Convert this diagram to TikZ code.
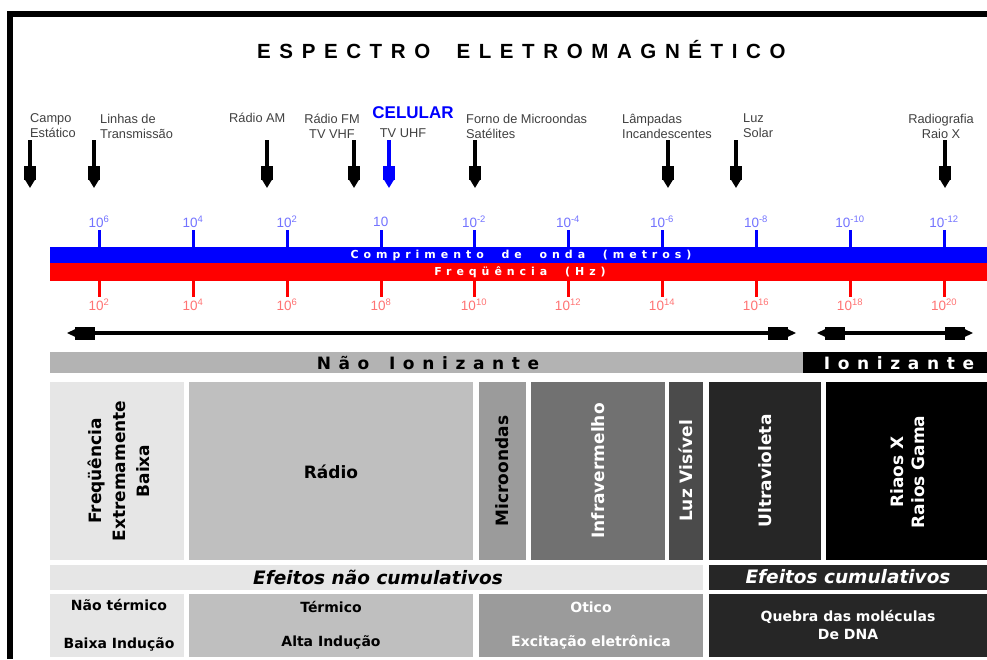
\documentclass[tikz,border=0pt]{standalone}
\usepackage{fontspec}
\setmainfont{Liberation Sans}
\newfontfamily\titlefont{Liberation Sans}[LetterSpace=42]
\newfontfamily\barfont{DejaVu Sans}[LetterSpace=45]
\newfontfamily\ionfont{DejaVu Sans}[LetterSpace=45]
\newfontfamily\boxfont{DejaVu Sans}
\usetikzlibrary{arrows.meta}

\definecolor{faixa}{HTML}{B3B3B3}
\definecolor{c1}{HTML}{E6E6E6}
\definecolor{c2}{HTML}{BFBFBF}
\definecolor{c3}{HTML}{9B9B9B}
\definecolor{c4}{HTML}{717171}
\definecolor{c5}{HTML}{4B4B4B}
\definecolor{c6}{HTML}{262626}

\begin{document}
\begin{tikzpicture}[x=1pt,y=-1pt]
					\tikzstyle{lbl}=[inner sep=0pt,text=black!75,font=\fontsize{12.8}{15}\selectfont]
					\tikzstyle{pointer}=[line width=3.5pt,-{Rectangle[length=14pt,width=12pt,sep=0pt]Triangle[length=8pt,width=9pt,sep=0pt]}]
					\tikzstyle{spanarrow}=[line width=4pt,{Triangle[length=15pt,width=5pt,sep=0pt]Rectangle[length=20pt,width=13pt,sep=0pt]}-{Rectangle[length=20pt,width=13pt,sep=0pt]Triangle[length=15pt,width=5pt,sep=0pt]}]
					\tikzstyle{ticklbl}=[inner sep=0pt,font=\fontsize{13.5}{15}\selectfont]
					\tikzstyle{vbox}=[inner sep=0pt,rotate=90,align=center,font=\boxfont\bfseries\fontsize{17}{24}\selectfont]
					\tikzstyle{hbox}=[inner sep=0pt,align=center,font=\boxfont\bfseries\fontsize{14}{18}\selectfont]
					\useasboundingbox (0,0) rectangle (987,659);
					% moldura
					\draw[line width=5.5pt] (10,659) -- (10,14) -- (987,14);
					\node[anchor=west,inner sep=0pt] (title) at (257,50) {\titlefont\bfseries\fontsize{20.5}{24}\selectfont ESPECTRO\hspace{12pt} ELETROMAGNÉTICO};
					% fontes
					\node[lbl,anchor=west,align=left] (l1) at (30,126) {Campo\\Estático};
					\node[lbl,anchor=west,align=left] (l2) at (100,126) {Linhas de\\Transmissão};
					\node[lbl,anchor=west] (l3) at (229,118) {Rádio AM};
					\node[lbl,align=center] (l4) at (332,126) {Rádio FM\\TV VHF};
					\node[inner sep=0pt,text=blue,font=\bfseries\fontsize{17}{20}\selectfont] (cel) at (413,113) {CELULAR};
					\node[lbl] (l5) at (403,133) {TV UHF};
					\node[lbl,anchor=west,align=left] (l6) at (466,126) {Forno de Microondas\\Satélites};
					\node[lbl,anchor=west,align=left] (l7) at (622,126) {Lâmpadas\\Incandescentes};
					\node[lbl,anchor=west,align=left] (l8) at (743,126) {Luz\\Solar};
					\node[lbl,align=center] (l9) at (941,126) {Radiografia\\Raio X};
					\foreach \x [count=\i] in {30,94,267,354,475,668,736,945} {
						\coordinate (s\i) at (\x,140);
						\coordinate (e\i) at (\x,188);
						\draw[pointer] (s\i) -- (e\i);
					}
					\coordinate (sc) at (389,140);
					\coordinate (ec) at (389,188);
					\draw[pointer,blue] (sc) -- (ec);
					% escalas
					\fill[blue] (50,247) rectangle (987,263);
					\fill[red] (50,263) rectangle (987,281);
					\foreach \x/\w/\f [count=\i] in {99/6/2,193/4/4,287/2/6,381/{}/8,474/-2/10,568/-4/12,662/-6/14,756/-8/16,850/-10/18,944/-12/20} {
						\draw[blue,line width=3pt] (\x,230) -- (\x,247);
						\draw[red,line width=3pt] (\x,281) -- (\x,297);
						\node[ticklbl,text=blue!55] (w\i) at (\x,222) {10\textsuperscript{\w}};
						\node[ticklbl,text=red!55] (f\i) at (\x,305) {10\textsuperscript{\f}};
					}
					\node[inner sep=0pt,text=white] (onda) at (521,255) {\barfont\bfseries\fontsize{11}{12}\selectfont Comprimento\hspace{9pt} de\hspace{9pt} onda\hspace{9pt} (metros)};
					\node[inner sep=0pt,text=white] (freq) at (520,272) {\barfont\bfseries\fontsize{11}{12}\selectfont Freqüência\hspace{9pt} (Hz)};
					% faixas
					\coordinate (r1) at (60,333);
					\coordinate (r2) at (803,333);
					\coordinate (r3) at (810,333);
					\coordinate (r4) at (980,333);
					\draw[spanarrow] (r1) -- (r2);
					\draw[spanarrow] (r3) -- (r4);
					\fill[faixa] (50,352) rectangle (803,373);
					\fill[black] (803,352) rectangle (987,373);
					\node[inner sep=0pt] (nion) at (428,363) {\ionfont\bfseries\fontsize{17}{18}\selectfont Não\hspace{6pt} Ionizante};
					\node[inner sep=0pt,text=white] (ion) at (899,363) {\ionfont\bfseries\fontsize{17}{18}\selectfont Ionizante};
					% regioes
					\fill[c1] (50,382) rectangle (184,560);
					\fill[c2] (189,382) rectangle (473,560);
					\fill[c3] (479,382) rectangle (526,560);
					\fill[c4] (531,382) rectangle (665,560);
					\fill[c5] (669,382) rectangle (703,560);
					\fill[c6] (709,382) rectangle (821,560);
					\fill[black] (826,382) rectangle (987,560);
					\node[vbox] (feb) at (119,471) {Freqüência\\Extremamente\\Baixa};
					\node[hbox,font=\boxfont\bfseries\fontsize{17}{20}\selectfont] (rad) at (331,472) {Rádio};
					\node[vbox] (mic) at (502,471) {Microondas};
					\node[vbox,text=white] (inf) at (598,471) {Infravermelho};
					\node[vbox,text=white] (luz) at (686,471) {Luz Visível};
					\node[vbox,text=white] (uv) at (765,471) {Ultravioleta};
					\node[vbox,text=white,font=\boxfont\bfseries\fontsize{17}{21}\selectfont] (xg) at (908,472) {Riaos X\\Raios Gama};
					% efeitos
					\fill[c1] (50,565) rectangle (703,590);
					\fill[c6] (709,565) rectangle (987,590);
					\node[inner sep=0pt,font=\boxfont\bfseries\itshape\fontsize{18.5}{20}\selectfont] (enc) at (378,577) {Efeitos não cumulativos};
					\node[inner sep=0pt,text=white,font=\boxfont\bfseries\itshape\fontsize{18.5}{20}\selectfont] (ecu) at (848,577) {Efeitos cumulativos};
					\fill[c1] (50,594) rectangle (184,657);
					\fill[c2] (189,594) rectangle (473,657);
					\fill[c3] (479,594) rectangle (703,657);
					\fill[c6] (709,594) rectangle (987,657);
					\node[hbox] (b1) at (119,605) {Não térmico};
					\node[hbox] (b2) at (119,644) {Baixa Indução};
					\node[hbox] (b3) at (331,607) {Térmico};
					\node[hbox] (b4) at (331,642) {Alta Indução};
					\node[hbox,text=white] (b5) at (591,607) {Otico};
					\node[hbox,text=white] (b6) at (591,642) {Excitação eletrônica};
					\node[hbox,text=white] (b7) at (848,625) {Quebra das moléculas\\De DNA};
					\end{tikzpicture}
\end{document}
